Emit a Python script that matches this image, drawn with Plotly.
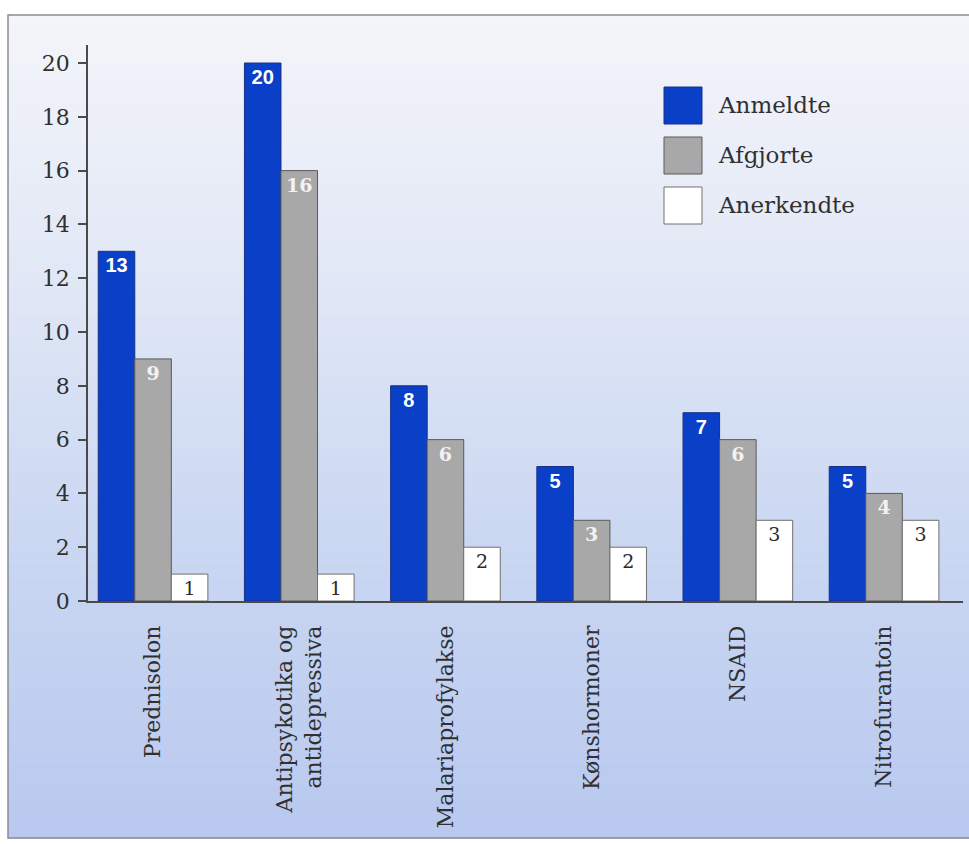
import plotly.graph_objects as go

# Data
categories = ["Prednisolon", "Antipsykotika og<br>antidepressiva", "Malariaprofylakse",
              "Kønshormoner", "NSAID", "Nitrofurantoin"]
series_names = ["Anmeldte", "Afgjorte", "Anerkendte"]
anmeldte = [13, 20, 8, 5, 7, 5]
afgjorte = [9, 16, 6, 3, 6, 4]
anerkendte = [1, 1, 2, 2, 3, 3]
y_ticks = [0, 2, 4, 6, 8, 10, 12, 14, 16, 18, 20]

W, H = 969, 844
L, R, T, B = 88, 6, 45, 243
PW, PH = W - L - R, H - T - B

SERIF = "DejaVu Serif"
SANS = "Liberation Sans"


def px_x(px):
    return (px - L) / PW


def px_y(py):
    return (H - B - py) / PH


def hex_rgb(h):
    h = h.lstrip("#")
    return tuple(int(h[i:i + 2], 16) for i in (0, 2, 4))


def mix(c1, c2, t):
    a, b = hex_rgb(c1), hex_rgb(c2)
    return "rgb(%d,%d,%d)" % tuple(round(a[i] + (b[i] - a[i]) * t) for i in range(3))


styles = [
    dict(color="#0a3fc8", line="#1b2f86", font=dict(family=SANS, size=20, color="white", weight="bold")),
    dict(color="#a8a8a8", line="#5a5a5a", font=dict(family=SERIF, size=19, color="#f2f2f2", weight="bold")),
    dict(color="#ffffff", line="#707070", font=dict(family=SERIF, size=19, color="#2a2a2a")),
]

fig = go.Figure()
for name, vals, st in zip(series_names, [anmeldte, afgjorte, anerkendte], styles):
    fig.add_trace(go.Bar(
        x=categories, y=vals, name=name,
        marker=dict(color=st["color"], line=dict(color=st["line"], width=1)),
        text=[str(v) for v in vals], textposition="inside", insidetextanchor="end",
        constraintext="none", textfont=st["font"], textangle=0,
        showlegend=False, hoverinfo="skip",
    ))

shapes = []
# background panel with vertical gradient
stops = [(15, "#f4f5fa"), (250, "#e3e9f6"), (550, "#cad7f2"), (838, "#b8c8ef")]
top, bot = 15, 838
n = 110
for i in range(n):
    y0 = top + (bot - top) * i / n
    y1 = top + (bot - top) * (i + 1) / n
    ym = (y0 + y1) / 2
    for (a, ca), (b, cb) in zip(stops[:-1], stops[1:]):
        if a <= ym <= b:
            col = mix(ca, cb, (ym - a) / (b - a))
            break
    shapes.append(dict(type="rect", xref="paper", yref="paper", layer="below",
                       x0=px_x(8), x1=px_x(975), y0=px_y(y1 + 0.6), y1=px_y(y0),
                       fillcolor=col, line=dict(width=0)))
shapes.append(dict(type="rect", xref="paper", yref="paper", layer="below",
                   x0=px_x(8), x1=px_x(975), y0=px_y(838), y1=px_y(15),
                   fillcolor="rgba(0,0,0,0)", line=dict(color="#8a8c94", width=1.5)))

# legend swatches and labels
annotations = []
for k, (name, st) in enumerate(zip(series_names, styles)):
    yt = 87 + 50 * k
    shapes.append(dict(type="rect", xref="paper", yref="paper", layer="above",
                       x0=px_x(664), x1=px_x(702), y0=px_y(yt + 37), y1=px_y(yt),
                       fillcolor=st["color"], line=dict(color=st["line"], width=1)))
    annotations.append(dict(xref="paper", yref="paper", x=px_x(716), y=px_y(yt + 18),
                            text=name, showarrow=False, xanchor="left", yanchor="middle",
                            font=dict(family=SERIF, size=23, color="#303030")))

fig.update_layout(
    width=W, height=H,
    margin=dict(l=L, r=R, t=T, b=B, pad=0),
    paper_bgcolor="white", plot_bgcolor="rgba(0,0,0,0)",
    barmode="group", bargap=0.25, bargroupgap=0,
    shapes=shapes, annotations=annotations,
    showlegend=False,
    xaxis=dict(
        range=[-0.445, 5.54], showline=True, linecolor="#4a4a4a", linewidth=1.5,
        ticks="", tickangle=-90, ticklabelstandoff=14, showgrid=False, zeroline=False,
        tickfont=dict(family=SERIF, size=22, color="#303030"),
    ),
    yaxis=dict(
        range=[0, 20.67], tickvals=y_ticks, ticks="outside", ticklen=8, tickwidth=1.5,
        tickcolor="#4a4a4a", showline=True, linecolor="#4a4a4a", linewidth=1.5,
        showgrid=False, zeroline=False, ticklabelstandoff=4,
        tickfont=dict(family=SERIF, size=22, color="#303030"),
    ),
)

fig.write_html("out.html")
